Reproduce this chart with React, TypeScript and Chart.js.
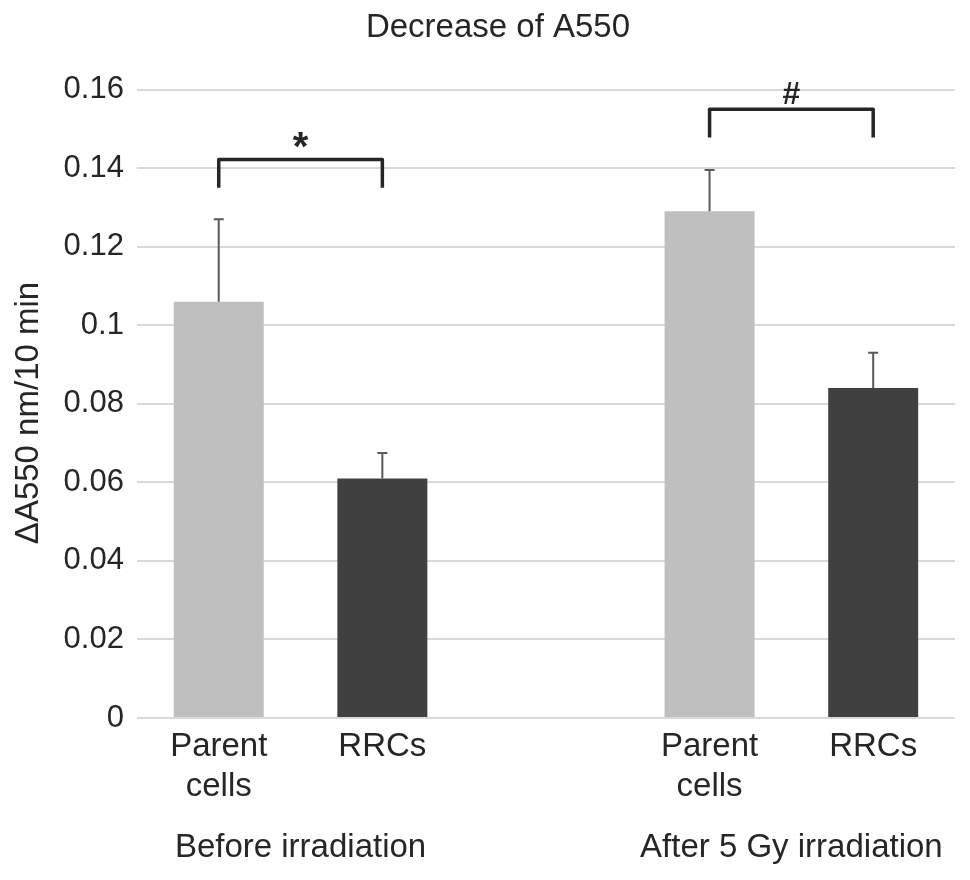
import React, { useEffect, useRef } from "react";
import { Chart, registerables } from "chart.js";

Chart.register(...registerables);

// ---- data ----
const categories: (string | string[])[] = [["Parent", "cells"], "RRCs", "", ["Parent", "cells"], "RRCs"];
const values: (number | null)[] = [0.106, 0.061, null, 0.129, 0.084];
const errors: (number | null)[] = [0.021, 0.0065, null, 0.0105, 0.009];
// group axis slots: 6 evenly spaced slots from edge to edge; groups sit at slots 1 and 4
const groupAxisLabels: string[] = ["", "Before irradiation", "", "", "After 5 Gy irradiation", ""];
const yTickValues: number[] = [0, 0.02, 0.04, 0.06, 0.08, 0.1, 0.12, 0.14, 0.16];
const yTickLabels: string[] = ["0", "0.02", "0.04", "0.06", "0.08", "0.1", "0.12", "0.14", "0.16"];
const bracketPairs: [number, number][] = [[0, 1], [3, 4]];
const bracketTops: number[] = [0.1422, 0.155];
const bracketLegEnds: number[] = [0.135, 0.1478];
const bracketSymbols: string[] = ["*", "#"];

// ---- styles ----
const barColors = ["#bfbfbf", "#404040", "#bfbfbf", "#bfbfbf", "#404040"];
const FONT = "'Liberation Sans', Arial, sans-serif";
const TEXT = "#262626";

const annotationPlugin = {
  id: "errorsAndBrackets",
  afterDatasetsDraw(chart: any) {
    const ctx = chart.ctx;
    const meta = chart.getDatasetMeta(0);
    const y = chart.scales.y;
    ctx.save();
    // error bars (upper only)
    ctx.strokeStyle = "#5a5a5a";
    ctx.lineWidth = 2;
    values.forEach((v, i) => {
      const e = errors[i];
      if (v == null || e == null) return;
      const el = meta.data[i];
      const x = el.x;
      const y0 = y.getPixelForValue(v);
      const y1 = y.getPixelForValue(v + e);
      ctx.beginPath();
      ctx.moveTo(x, y0);
      ctx.lineTo(x, y1);
      ctx.moveTo(x - 5, y1);
      ctx.lineTo(x + 5, y1);
      ctx.stroke();
    });
    // significance brackets
    ctx.strokeStyle = TEXT;
    ctx.lineWidth = 3.5;
    ctx.lineJoin = "round";
    ctx.lineCap = "butt";
    ctx.fillStyle = TEXT;
    ctx.textAlign = "center";
    ctx.textBaseline = "alphabetic";
    bracketPairs.forEach(([a, b], k) => {
      const xa = meta.data[a].x;
      const xb = meta.data[b].x;
      const yt = y.getPixelForValue(bracketTops[k]);
      const yl = y.getPixelForValue(bracketLegEnds[k]);
      ctx.beginPath();
      ctx.moveTo(xa, yl);
      ctx.lineTo(xa, yt);
      ctx.lineTo(xb, yt);
      ctx.lineTo(xb, yl);
      ctx.stroke();
      const isStar = bracketSymbols[k] === "*";
      ctx.font = isStar ? `bold 40px ${FONT}` : `bold 32px ${FONT}`;
      ctx.fillText(bracketSymbols[k], (xa + xb) / 2, yt - (isStar ? 0 : 5));
    });
    ctx.restore();
  },
};

export default function App() {
  const ref = useRef<HTMLCanvasElement | null>(null);
  useEffect(() => {
    if (!ref.current) return;
    const chart = new Chart(ref.current, {
      type: "bar",
      data: {
        labels: categories,
        datasets: [
          {
            data: values,
            backgroundColor: barColors,
            barPercentage: 0.55,
            categoryPercentage: 1,
            xAxisID: "x",
            yAxisID: "y",
          },
        ],
      },
      options: {
        animation: false,
        responsive: true,
        maintainAspectRatio: false,
        layout: { padding: { top: 0, right: 0, bottom: 0, left: 0 } },
        plugins: {
          legend: { display: false },
          tooltip: { enabled: false },
          title: {
            display: true,
            text: "Decrease of A550",
            color: TEXT,
            font: { family: FONT, size: 33, weight: "normal", lineHeight: 1.2 },
            padding: { top: 0, bottom: 42 },
          },
        },
        scales: {
          x: {
            type: "category",
            position: "bottom",
            weight: 0,
            offset: true,
            grid: { display: false, drawTicks: false },
            border: { display: false },
            ticks: {
              color: TEXT,
              font: { family: FONT, size: 33, lineHeight: 1.2 },
              padding: 9,
              autoSkip: false,
              maxRotation: 0,
              minRotation: 0,
            },
          },
          xGroup: {
            type: "category",
            labels: groupAxisLabels,
            position: "bottom",
            weight: 1,
            offset: false,
            grid: { display: false, drawTicks: false, offset: false },
            border: { display: false },
            ticks: {
              color: TEXT,
              font: { family: FONT, size: 33, lineHeight: 1.72 },
              padding: 4,
              autoSkip: false,
              maxRotation: 0,
              minRotation: 0,
            },
          },
          y: {
            min: 0,
            max: 0.16,
            afterBuildTicks: (axis: any) => {
              axis.ticks = yTickValues.map((v) => ({ value: v }));
            },
            grid: { color: "#d9d9d9", lineWidth: 2, drawTicks: false },
            border: { display: false },
            ticks: {
              color: TEXT,
              font: { family: FONT, size: 31 },
              padding: 13,
              callback: (_v: any, i: number) => yTickLabels[i],
            },
            title: {
              display: true,
              text: "ΔA550 nm/10 min  ",
              color: TEXT,
              font: { family: FONT, size: 33, lineHeight: 1.2 },
              padding: { top: 1, bottom: 2 },
            },
          },
          ySpacer: {
            type: "linear",
            position: "right",
            display: true,
            grid: { display: false, drawTicks: false },
            border: { display: false },
            ticks: { display: false },
            afterFit: (axis: any) => {
              axis.width = 33;
            },
          },
        },
      },
      plugins: [annotationPlugin],
    });
    return () => chart.destroy();
  }, []);
  return (
    <div style={{ width: "954px", height: "872px", overflow: "hidden", position: "relative" }}>
      <div style={{ width: "980px", height: "872px", position: "relative" }}>
        <canvas ref={ref} />
      </div>
    </div>
  );
}
